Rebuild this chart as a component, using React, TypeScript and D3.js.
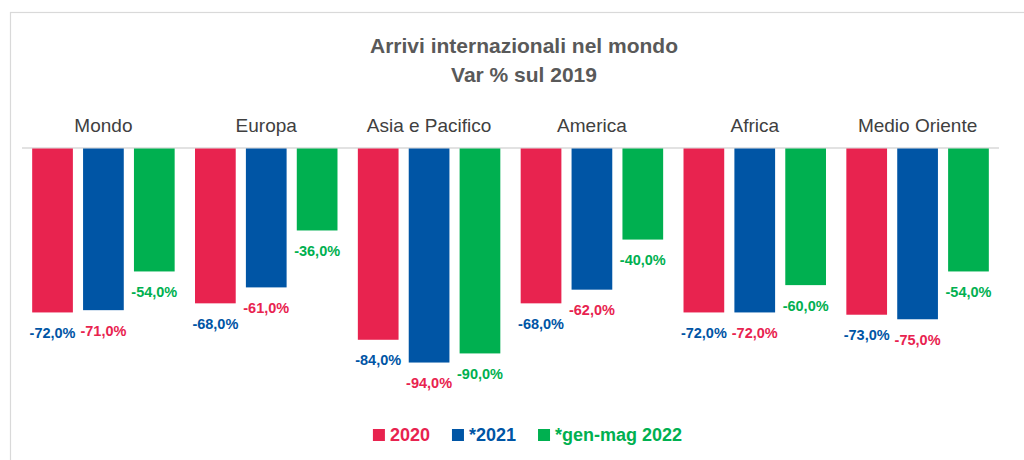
import React, { useEffect, useRef } from "react";
import * as d3 from "d3";

const categories = ["Mondo", "Europa", "Asia e Pacifico", "America", "Africa", "Medio Oriente"];
const seriesNames = ["2020", "*2021", "*gen-mag 2022"];
const values2020 = [-72, -68, -84, -68, -72, -73];
const values2021 = [-71, -61, -94, -62, -72, -75];
const values2022 = [-54, -36, -90, -40, -60, -54];
const titleLines = ["Arrivi internazionali nel mondo", "Var % sul 2019"];

const barColors = ["#E8234F", "#0055A5", "#00B050"];
// label colours as they appear in the reference
const labelColors = ["#0055A5", "#E8234F", "#00B050"];

const W = 1024;
const H = 460;
const FONT = "'Liberation Sans', Arial, sans-serif";

export default function App() {
  const ref = useRef<SVGSVGElement | null>(null);

  useEffect(() => {
    const svg = d3.select(ref.current);
    svg.selectAll("*").remove();

    const seriesValues = [values2020, values2021, values2022];

    // frame
    svg.append("rect")
      .attr("x", 10.5).attr("y", 12.5)
      .attr("width", W + 20).attr("height", H + 20)
      .attr("fill", "none").attr("stroke", "#d9d9d9").attr("stroke-width", 1.2);

    // title
    svg.append("g").selectAll("text").data(titleLines).join("text")
      .attr("x", 524)
      .attr("y", (_d, i) => 53 + i * 29)
      .attr("text-anchor", "middle")
      .attr("font-family", FONT)
      .attr("font-weight", "bold")
      .attr("font-size", 21)
      .attr("fill", "#595959")
      .text((d) => d);

    const x0 = d3.scaleBand<string>().domain(categories).range([22, 999]).padding(0);
    const x1 = d3.scaleBand<string>().domain(seriesNames).range([0, x0.bandwidth()])
      .paddingInner(0.2).paddingOuter(0.2);
    const y = d3.scaleLinear().domain([0, -100]).range([148.5, 148.5 + 227.7]);

    // category labels
    svg.append("g").selectAll("text").data(categories).join("text")
      .attr("x", (d) => (x0(d) as number) + x0.bandwidth() / 2)
      .attr("y", 132)
      .attr("text-anchor", "middle")
      .attr("font-family", FONT)
      .attr("font-size", 19)
      .attr("fill", "#404040")
      .text((d) => d);

    // axis line
    svg.append("line")
      .attr("x1", x0.range()[0]).attr("x2", x0.range()[1])
      .attr("y1", y(0) - 0.5).attr("y2", y(0) - 0.5)
      .attr("stroke", "#d9d9d9").attr("stroke-width", 1.5);

    const flat: { cat: string; s: number; v: number }[] = [];
    categories.forEach((c, ci) => {
      seriesNames.forEach((_s, si) => flat.push({ cat: c, s: si, v: seriesValues[si][ci] }));
    });

    const bx = (d: { cat: string; s: number }) =>
      (x0(d.cat) as number) + (x1(seriesNames[d.s]) as number);

    svg.append("g").selectAll("rect").data(flat).join("rect")
      .attr("x", bx)
      .attr("y", y(0))
      .attr("width", x1.bandwidth())
      .attr("height", (d) => y(d.v) - y(0))
      .attr("fill", (d) => barColors[d.s]);

    const fmt = (v: number) => v.toFixed(1).replace(".", ",") + "%";
    svg.append("g").selectAll("text").data(flat).join("text")
      .attr("x", (d) => bx(d) + x1.bandwidth() / 2)
      .attr("y", (d) => y(d.v) + 25.5)
      .attr("text-anchor", "middle")
      .attr("font-family", FONT)
      .attr("font-weight", "bold")
      .attr("font-size", 14.5)
      .attr("fill", (d) => labelColors[d.s])
      .text((d) => fmt(d.v));

    // legend
    const lg = svg.append("g");
    const items = lg.selectAll("g").data(seriesNames).join("g");
    items.append("rect")
      .attr("width", 12).attr("height", 12).attr("y", 429)
      .attr("fill", (_d, i) => barColors[i]);
    items.append("text")
      .attr("x", 17).attr("y", 441)
      .attr("font-family", FONT).attr("font-weight", "bold").attr("font-size", 18)
      .attr("fill", (_d, i) => barColors[i])
      .text((d) => d);
    const widths: number[] = [];
    items.select("text").each(function () {
      widths.push(17 + (this as SVGTextElement).getComputedTextLength());
    });
    const gap = 22;
    const total = d3.sum(widths) + gap * (widths.length - 1);
    let cx = 527.5 - total / 2;
    items.attr("transform", (_d, i) => {
      const t = `translate(${cx},0)`;
      cx += widths[i] + gap;
      return t;
    });
  }, []);

  return (
    <svg
      ref={ref}
      width={W}
      height={H}
      style={{ position: "absolute", left: 0, top: 0, background: "#fff" }}
    />
  );
}
